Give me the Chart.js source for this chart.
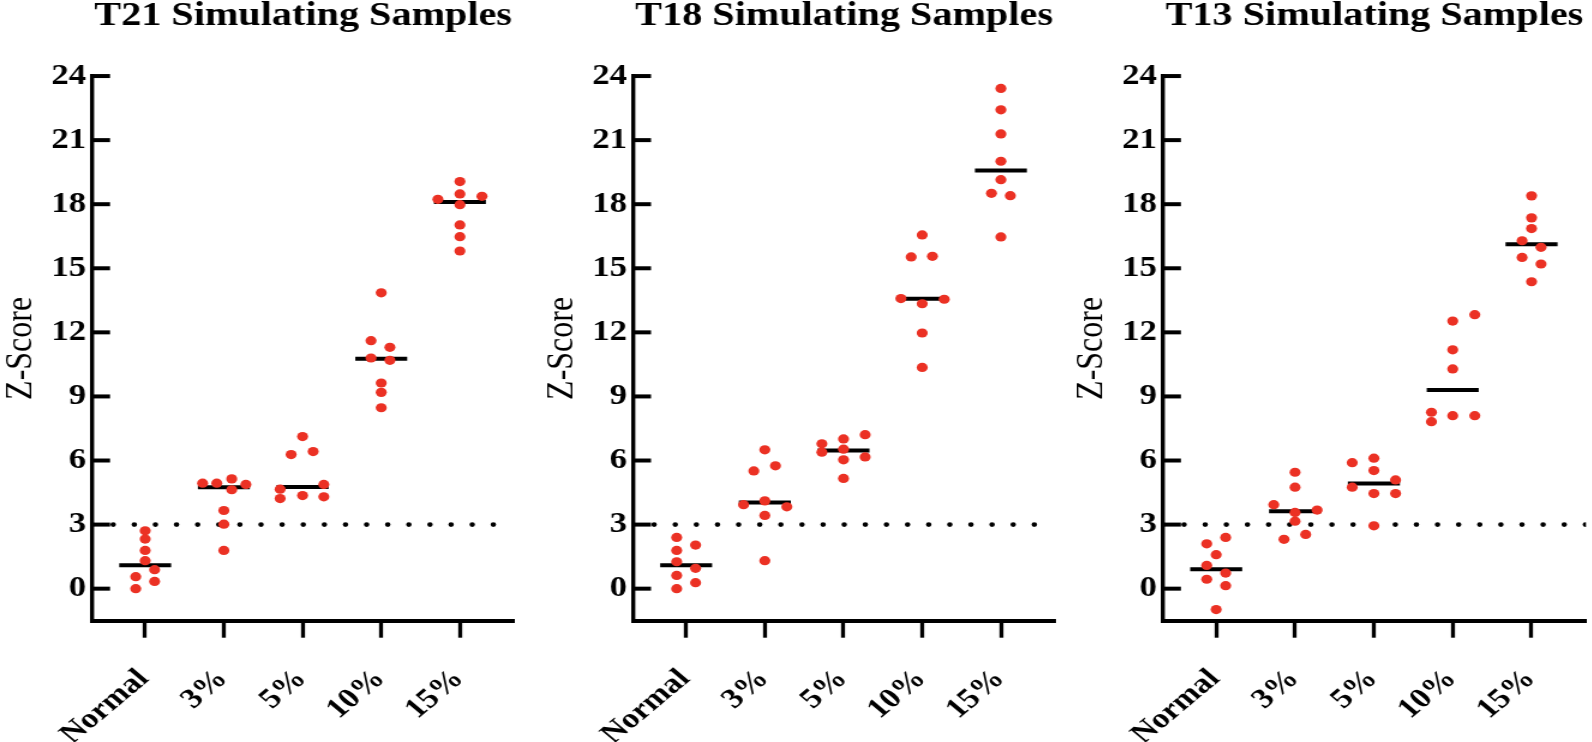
<!DOCTYPE html>
<html>
<head>
<meta charset="utf-8">
<script src="https://cdn.jsdelivr.net/npm/chart.js@4.4.0/dist/chart.umd.min.js"></script>
<style>
  html, body { margin: 0; padding: 0; background: #fff; overflow: hidden; }
  body { width: 1592px; height: 742px; position: relative; }
  canvas { position: absolute; top: 0; transform: scaleX(1.2); transform-origin: 0 0; }
</style>
</head>
<body>
<canvas id="c21" width="447" height="742" style="left:0px"></canvas>
<canvas id="c18" width="447" height="742" style="left:540px"></canvas>
<canvas id="c13" width="447" height="742" style="left:1060px"></canvas>
<script>
var categories = ["Normal", "3%", "5%", "10%", "15%"];
var yTicks = [0, 3, 6, 9, 12, 15, 18, 21, 24];
var cutoff = 3;

// Z-scores per group
var t21Values = [
    [2.71, 2.32, 1.79, 1.31, 0.89, 0.56, 0.34, 0.00],
    [5.14, 4.94, 4.94, 4.88, 4.63, 3.66, 3.02, 1.79],
    [7.12, 6.42, 6.28, 4.88, 4.66, 4.36, 4.30, 4.22],
    [13.85, 11.61, 11.30, 10.80, 10.69, 9.63, 9.19, 8.47],
    [19.06, 18.48, 18.37, 18.23, 17.98, 17.03, 16.48, 15.81]
];
var t21Spread = [
    [0, 0, 0, 0, 0.12, -0.12, 0.12, -0.12],
    [0.1, -0.27, -0.09, 0.28, 0.1, 0, 0, 0],
    [0, 0.135, -0.145, 0.27, -0.285, 0, 0.27, -0.285],
    [0, -0.13, 0.11, -0.13, 0.11, 0, 0, 0],
    [0, 0, 0.28, -0.28, 0, 0, 0, 0]
];
var t21Medians = [1.1, 4.75, 4.76, 10.77, 18.1];

var t18Values = [
    [2.40, 2.04, 1.79, 1.26, 0.95, 0.62, 0.28, 0.00],
    [6.50, 5.75, 5.51, 4.11, 3.93, 3.83, 3.43, 1.31],
    [7.21, 7.01, 6.78, 6.53, 6.39, 6.17, 6.03, 5.16],
    [16.56, 15.56, 15.53, 13.58, 13.55, 13.34, 11.97, 10.36],
    [23.42, 22.42, 21.29, 20.01, 19.15, 18.51, 18.40, 16.47]
];
var t18Spread = [
    [-0.12, 0.12, -0.12, -0.12, 0.12, -0.12, 0.12, -0.12],
    [0, 0.135, -0.14, 0, -0.27, 0.28, 0, 0],
    [0.275, 0, -0.275, 0, -0.275, 0.275, 0, 0],
    [0, 0.13, -0.14, -0.27, 0.28, 0, 0, 0],
    [0, 0, 0, 0, 0, -0.12, 0.12, 0]
];
var t18Medians = [1.1, 4.03, 6.47, 13.57, 19.58];

var t13Values = [
    [2.40, 2.10, 1.59, 1.09, 0.73, 0.44, 0.14, -0.98],
    [5.45, 4.75, 3.93, 3.68, 3.57, 3.16, 2.54, 2.31],
    [6.11, 5.90, 5.53, 5.09, 4.75, 4.45, 4.45, 2.94],
    [12.83, 12.53, 11.18, 10.29, 8.26, 8.10, 8.10, 7.82],
    [18.39, 17.36, 16.86, 16.29, 15.98, 15.51, 15.20, 14.37]
];
var t13Spread = [
    [0.12, -0.12, 0, -0.12, 0.12, -0.12, 0.12, 0],
    [0, 0, -0.27, 0.28, 0, 0, 0.135, -0.14],
    [0, -0.275, 0, 0.275, -0.275, 0, 0.275, 0],
    [0.28, 0, 0, 0, -0.27, 0, 0.28, -0.27],
    [0, 0, 0, -0.12, 0.12, -0.12, 0.12, 0]
];
var t13Medians = [0.91, 3.62, 4.92, 9.3, 16.13];

var X_MIN = -0.675, X_MAX = 4.69;
var Y_MIN = -1.5, Y_MAX = 24;
var RED = "#EB3124";

Chart.defaults.font.family = "'Liberation Serif', 'Times New Roman', serif";
Chart.defaults.color = "#000";

// short ticks drawn inside the y axis
var innerTicks = {
    id: "innerTicks",
    afterDatasetsDraw: function (chart) {
        var ctx = chart.ctx;
        var y = chart.scales.y;
        var left = chart.chartArea.left;
        ctx.save();
        ctx.strokeStyle = "#000";
        ctx.lineWidth = 4;
        for (var i = 0; i < yTicks.length; i++) {
            var py = y.getPixelForValue(yTicks[i]);
            ctx.beginPath();
            ctx.moveTo(left, py);
            ctx.lineTo(left + 15, py);
            ctx.stroke();
        }
        ctx.restore();
    }
};

function drawPanel(id, title, values, spread, medians, axisX, padRight, yTitleShift) {
    var points = [];
    var medianLine = [];
    for (var i = 0; i < categories.length; i++) {
        for (var j = 0; j < values[i].length; j++) {
            points.push({ x: i + spread[i][j], y: values[i][j] });
        }
        medianLine.push({ x: i - 0.33, y: medians[i] });
        medianLine.push({ x: i + 0.33, y: medians[i] });
        medianLine.push({ x: i + 0.5, y: null });
    }

    return new Chart(document.getElementById(id), {
        type: "scatter",
        data: {
            datasets: [{
                data: points,
                backgroundColor: RED,
                borderWidth: 0,
                pointRadius: 4.6
            }, {
                type: "line",
                data: medianLine,
                borderColor: "#000",
                borderWidth: 4,
                pointRadius: 0,
                spanGaps: false
            }, {
                type: "line",
                data: [{ x: X_MIN, y: cutoff }, { x: X_MAX, y: cutoff }],
                borderColor: "#000",
                borderWidth: 4.6,
                borderDash: [0, 17.6],
                borderCapStyle: "round",
                pointRadius: 0
            }]
        },
        options: {
            responsive: false,
            animation: false,
            layout: { padding: { left: 0, right: padRight, top: 0, bottom: 0 } },
            plugins: {
                legend: { display: false },
                tooltip: { enabled: false },
                title: {
                    display: true,
                    fullSize: false,
                    text: title,
                    color: "#000",
                    font: { size: 33.5, weight: "bold", lineHeight: 0.9 },
                    padding: { top: 1, bottom: 44.9 }
                }
            },
            scales: {
                x: {
                    type: "linear",
                    min: X_MIN,
                    max: X_MAX,
                    afterBuildTicks: function (scale) {
                        scale.ticks = categories.map(function (c, i) { return { value: i }; });
                    },
                    afterFit: function (scale) { scale.height = 121.3; },
                    ticks: {
                        autoSkip: false,
                        maxRotation: 45,
                        minRotation: 45,
                        padding: 25,
                        labelOffset: -1,
                        color: "#000",
                        font: { size: 28, weight: "bold" },
                        callback: function (v) { return categories[v]; }
                    },
                    grid: {
                        drawOnChartArea: false,
                        drawTicks: true,
                        tickLength: 17,
                        tickWidth: 3.3,
                        tickColor: "#000",
                        color: "#000"
                    },
                    border: { color: "#000", width: 4 }
                },
                y: {
                    min: Y_MIN,
                    max: Y_MAX,
                    afterBuildTicks: function (scale) {
                        scale.ticks = yTicks.map(function (v) { return { value: v }; });
                    },
                    afterFit: function (scale) { scale.width = axisX; },
                    ticks: {
                        padding: 5,
                        color: "#000",
                        font: { size: 29, weight: "bold" }
                    },
                    grid: { drawOnChartArea: false, drawTicks: false, color: "#000" },
                    border: { color: "#000", width: 3.4 },
                    title: {
                        display: true,
                        text: "Z-Score",
                        color: "#000",
                        padding: { top: yTitleShift, bottom: 0 },
                        font: { size: 32, lineHeight: 1 }
                    }
                }
            }
        },
        plugins: [innerTicks]
    });
}

drawPanel("c21", "T21 Simulating Samples", t21Values, t21Spread, t21Medians, 76.7, 18.5, 1.25);
drawPanel("c18", "T18 Simulating Samples", t18Values, t18Spread, t18Medians, 77.5, 17.7, 2.2);
drawPanel("c13", "T13 Simulating Samples", t13Values, t13Spread, t13Medians, 85.8, 8.7, 10.4);
</script>
</body>
</html>
